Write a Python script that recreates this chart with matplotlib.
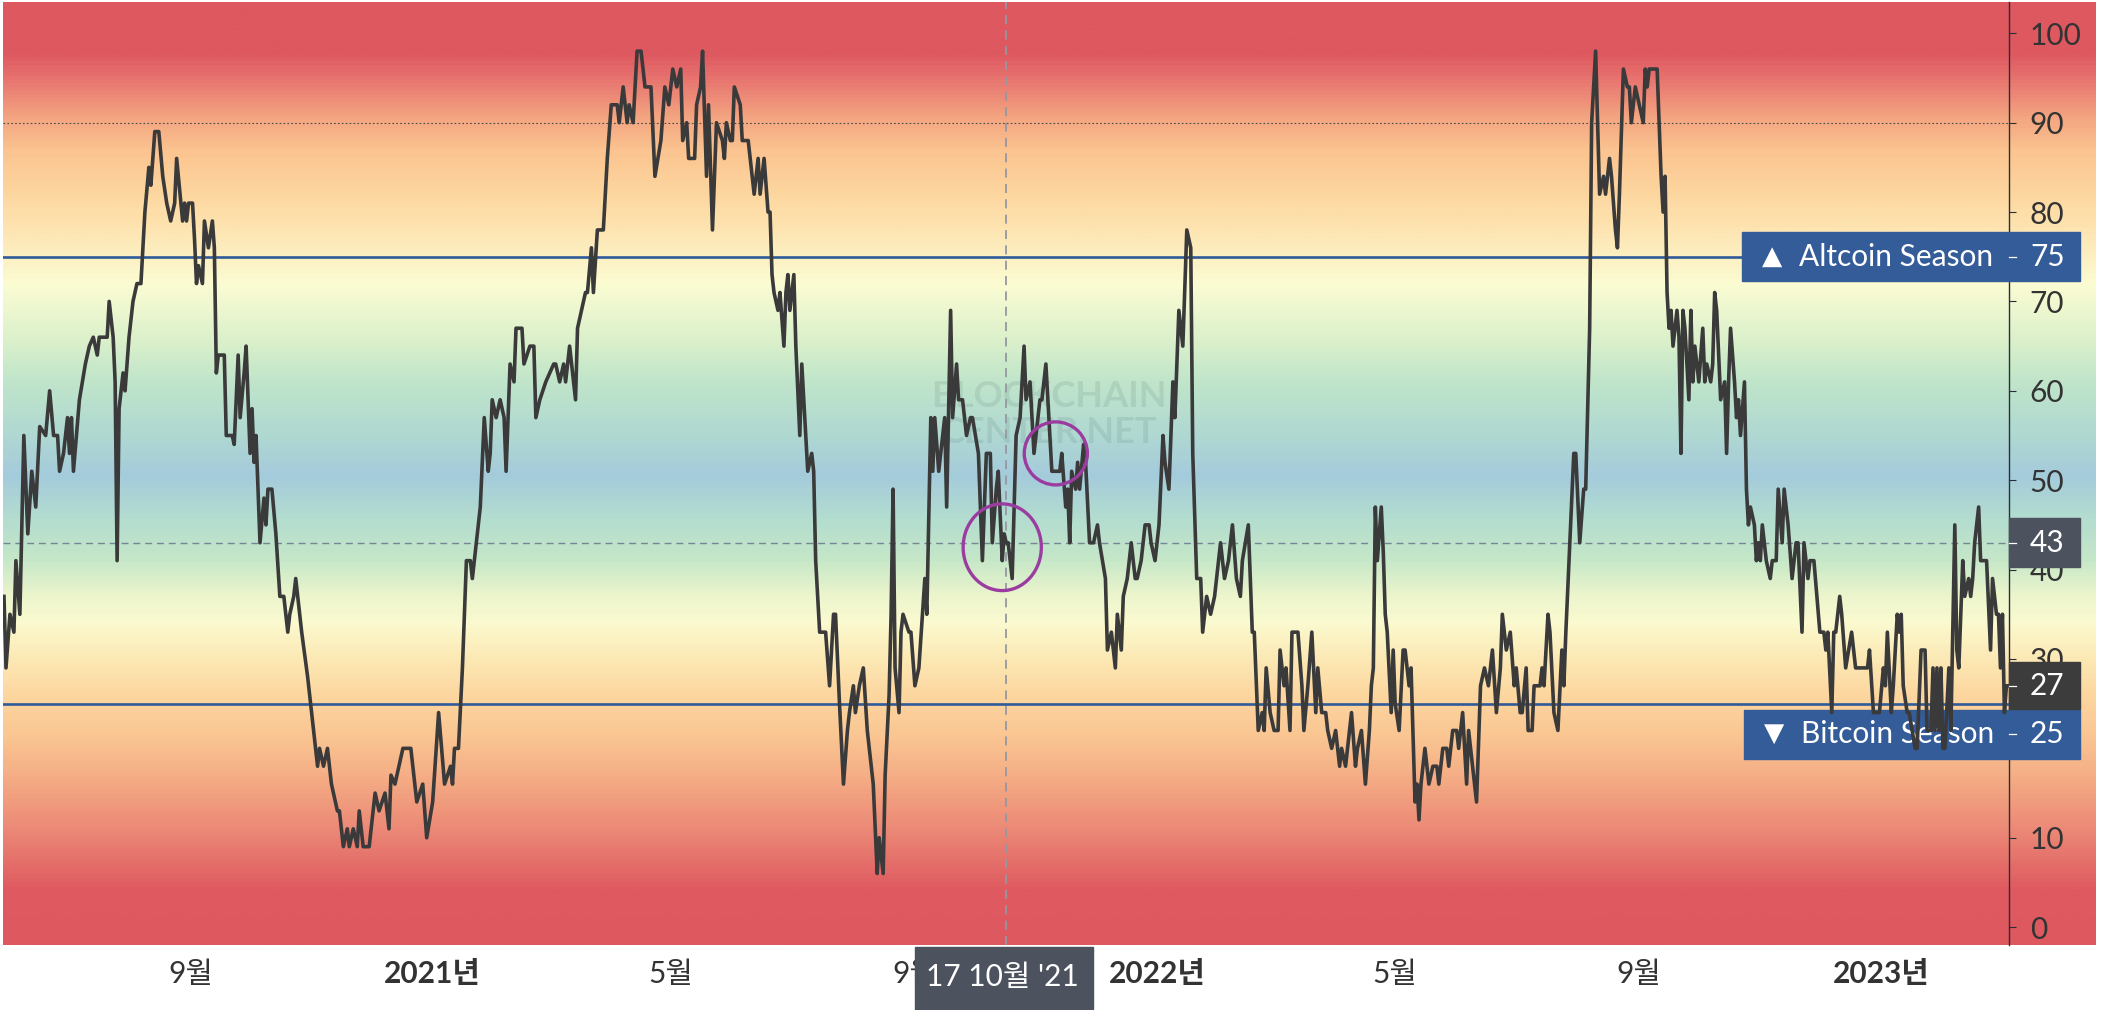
import numpy as np
import pandas as pd
import matplotlib
matplotlib.use("Agg")
import matplotlib.pyplot as plt
import matplotlib.dates as mdates
import matplotlib.transforms as mtransforms
from matplotlib.colors import LinearSegmentedColormap
from matplotlib.patches import Rectangle, Ellipse

plt.rcParams['font.family'] = ['Lato', 'Noto Sans CJK KR', 'DejaVu Sans']

START = pd.Timestamp("2020-05-28")

# altcoin season index: day offset from START -> value
days = [
    2, 3, 5, 7, 8, 10, 12, 14, 16, 18, 20, 23, 25, 27, 29, 30, 32, 34, 35, 36, 37, 40, 43, 45, 47, 49, 50,
    54, 55, 57, 58, 59, 60, 62, 63, 65, 67, 69, 71, 73, 75, 76, 78, 80, 82, 84, 86, 88, 89, 92, 93, 94, 95,
    97, 98, 99, 100, 102, 103, 105, 107, 108, 109, 110, 113, 114, 117, 118, 120, 121, 123, 124, 126, 127,
    128, 129, 131, 133, 134, 135, 137, 139, 141, 143, 145, 146, 148, 149, 152, 155, 157, 160, 161, 163, 165,
    167, 170,
    171, 173, 175, 176, 178, 180, 181, 183, 186, 188, 189, 191, 194, 196, 197, 199, 201, 203, 207, 208, 210,
    213, 215, 218, 221, 224, 227, 228, 229, 231, 233, 235, 237, 238, 240, 242, 244, 246, 247, 248, 250, 252,
    254, 255, 257, 259, 260, 263, 264, 267, 269, 270, 272, 275, 279, 280, 282, 284, 285, 287, 290, 291, 295,
    296, 298, 299, 301, 304, 306, 308, 311, 312, 314, 316, 317, 319, 321, 323, 325, 328, 330, 333, 335, 337,
    339, 341, 343, 344, 346, 347,
    348, 350, 351, 353, 354, 356, 357, 359, 361, 364, 365, 366, 368, 369, 370, 373, 374, 377, 379, 380, 382,
    383, 385, 387, 388, 389, 390, 392, 393, 395, 396, 397, 398, 400, 401, 403, 404, 405, 406, 407, 409, 410,
    411, 413, 416, 418, 420, 421, 423, 425, 427, 428, 430, 431, 433, 435, 437, 440, 442, 443, 445, 446, 448,
    449, 450, 451, 453, 454, 455, 458, 459, 461, 463, 466, 467, 469, 470, 471, 473, 474, 476, 477, 479, 480,
    482, 483, 485, 487, 489, 490, 493, 495, 497, 499, 500, 502, 503, 505, 506, 507, 508, 510, 512, 514,
    516, 517, 519, 521, 524, 525, 527, 528, 530, 534, 535, 537, 538, 539, 540, 542, 543, 544, 546, 547, 549,
    551, 553, 554, 557, 558, 560, 562, 563, 565, 566, 568, 570, 572, 573, 575, 577, 579, 580, 582, 584, 586,
    587, 589, 591, 592, 594, 596, 598, 600, 601, 603, 605, 606, 608, 610, 612, 614, 615, 617, 619, 621, 623,
    625, 626, 629, 631, 632, 634, 636, 637, 638, 640, 642, 644, 645, 647, 648, 650, 651, 654, 656, 657, 659,
    661, 663, 664, 666, 668, 669, 671, 673, 675, 676, 678, 680, 681, 683, 684, 686, 688,
    690, 691, 692, 693, 694, 696, 697, 698, 699, 701, 702, 703, 705, 707, 708, 710, 711, 713, 714, 715, 716,
    718, 720, 722, 724, 725, 727, 729, 730, 732, 734, 735, 737, 739, 740, 742, 744, 746, 748, 750, 752, 754,
    756, 757, 759, 761, 763, 764, 766, 767, 769, 770, 772, 773, 776, 777, 778, 780, 781, 783, 785, 787, 788,
    789, 791, 793, 794, 796, 798, 799, 801, 802, 804, 805, 806, 808, 809, 811, 812, 814, 815, 816, 818, 820,
    821, 822, 823, 824, 826, 828, 829, 830, 831, 835, 837, 838, 839, 840, 841, 842, 843, 845, 846, 847, 848,
    849, 851, 852,
    853, 854, 855, 856, 858, 859, 860, 862, 863, 864, 865, 867, 869, 870, 871, 872, 874, 875, 876, 877, 879,
    880, 881, 882, 884, 885, 886, 887, 888, 890, 892, 893, 895, 896, 898, 899, 901, 903, 905, 906, 908, 909,
    911, 912, 914, 917, 919, 920, 921, 923, 924, 925, 927, 928, 930, 933, 935, 939, 941, 942, 944, 947, 949,
    950, 951, 953, 954, 956, 957, 958, 959, 961, 962, 965, 966, 968, 970, 971, 973, 974, 975, 976, 977, 978,
    979, 980, 982, 983, 985, 986, 987, 989, 990, 992, 993, 994, 995, 997, 998, 1001, 1003, 1004, 1006, 1007,
    1008, 1009, 1010, 1011, 1012,
]
values = [
    37, 29, 35, 33, 41, 35, 55, 44, 51, 47, 56, 55, 60, 55, 55, 51, 53, 57, 53, 57, 51, 59, 63, 65, 66, 64, 66,
    66, 70, 66, 61, 41, 58, 62, 60, 66, 70, 72, 72, 80, 85, 83, 89, 89, 84, 81, 79, 81, 86, 79, 81, 79, 81,
    81, 77, 72, 74, 72, 79, 76, 79, 76, 62, 64, 64, 55, 55, 54, 64, 57, 62, 65, 53, 58,
    52, 55, 43, 48, 45, 49, 49, 44, 37, 37, 33, 35, 37, 39, 33, 28, 24, 18, 20, 18, 20,
    16, 13,
    13, 9, 11, 9, 11, 9, 13, 9, 9, 13, 15, 13, 15, 11, 17, 16, 18, 20, 20, 18, 14,
    16, 10, 14, 24, 16, 18, 16, 20, 20, 29, 41, 41, 39, 43, 47, 57, 51, 53, 59, 57, 59,
    57, 51, 63, 61, 67, 67, 63, 65, 65, 57, 59, 61, 63, 63, 61, 63, 61, 65, 59, 67, 71,
    71, 76, 71, 78, 78, 86, 92, 92, 90, 94, 90, 92, 90, 98, 98, 94, 94, 84, 88, 94, 92,
    96, 94, 96, 88, 90, 86,
    86, 86, 92, 94, 98, 84, 92, 78, 90, 88, 86, 90, 88, 88, 94, 92, 88, 88, 84, 82, 86,
    82, 86, 80, 80, 73, 71, 69, 71, 65, 71, 73, 69, 73, 65, 55, 63, 59, 55, 51, 53, 51,
    41, 33, 33, 27, 35, 35, 25, 16, 22, 24, 27, 24, 27, 29, 22, 16, 6, 10, 6, 17, 26,
    35, 49, 29, 24, 33, 35, 33, 33, 27, 29, 39, 35, 57, 51, 57, 51, 53, 57, 47, 69, 57,
    63, 59, 59, 55, 57, 57, 53, 41, 53, 53, 43, 49, 51, 41, 44, 43, 43, 39, 55, 57,
    65, 59, 61, 53, 59, 59, 63, 59, 51, 51, 53, 47, 49, 43, 51, 49, 52, 49, 54, 52, 43,
    43, 45, 43, 39, 31, 33, 29, 35, 31, 37, 39, 43, 39, 39, 41, 45, 45, 43, 41, 45, 55,
    52, 49, 61, 57, 69, 65, 78, 76, 53, 39, 39, 33, 37, 35, 37, 41, 43, 39, 41, 45, 39,
    37, 41, 45, 33, 33, 22, 24, 22, 29, 24, 22, 22, 31, 27, 29, 22, 33, 33, 27, 22, 27,
    33, 24, 29, 24, 24, 22, 20, 22, 18, 20, 18, 22, 24, 18, 20, 22, 16,
    22, 27, 29, 47, 41, 47, 42, 35, 33, 24, 31, 25, 22, 31, 31, 27, 29, 14, 16, 12, 16,
    20, 16, 18, 18, 16, 20, 20, 18, 22, 22, 20, 24, 16, 22, 18, 14, 27, 29, 27, 31, 24,
    29, 35, 31, 33, 27, 29, 24, 24, 29, 22, 22, 27, 27, 29, 27, 35, 33, 24, 22, 31, 27,
    33, 43, 53, 53, 43, 49, 49, 67, 90, 98, 90, 82, 84, 82, 86, 84, 78, 76, 82, 96, 94,
    94, 90, 92, 94, 92, 90, 96, 94, 96, 96, 84, 80, 84, 71, 67, 69, 65, 69, 66, 53, 69,
    67, 59, 69,
    61, 65, 63, 61, 67, 61, 63, 61, 63, 71, 69, 59, 61, 53, 61, 67, 61, 57, 59, 55, 61,
    49, 45, 47, 45, 41, 43, 41, 45, 41, 39, 41, 41, 49, 43, 49, 45, 39, 43, 43, 33, 43,
    39, 41, 41, 33, 33, 31, 33, 24, 33, 33, 37, 35, 29, 33, 29, 29, 29, 31, 24, 24, 29,
    27, 33, 24, 27, 35, 33, 35, 27, 24, 24, 20, 20, 31, 31, 22, 22, 29, 22, 29, 22, 29,
    20, 20, 29, 22, 45, 31, 29, 41, 37, 39, 37, 39, 43, 47, 41, 41, 31, 39, 35, 35,
    29, 35, 24, 27, 27,
]

tick_dates = ["2020-09-01", "2021-01-01", "2021-05-01", "2021-09-01",
              "2022-01-01", "2022-05-01", "2022-09-01", "2023-01-01"]
tick_labels = ["9월", "2021년", "5월", "9월", "2022년", "5월", "9월", "2023년"]
y_ticks = list(range(0, 101, 10))

ALT_LEVEL = 75
BTC_LEVEL = 25
BTC_TAG_Y = 21.6      # tag is pushed down under the last-value tag
DOT_LEVEL = 90
CURSOR_DATE = "2021-10-17"
CURSOR_LABEL = "17 10월 '21"
CURSOR_VALUE = 43
LAST_VALUE = 27

# hand-drawn purple rings
ring_dates = ["2021-10-15", "2021-11-11"]
ring_values = [42.5, 53.0]
ring_w_days = [39.4, 31.8]
ring_h = [9.7, 7.05]

# background colour ramp by index value
ramp = [(-2, '#de5860'), (4, '#df5a60'), (10, '#ea8474'), (16, '#f4a983'), (21, '#fac592'),
        (26, '#fdd7a0'), (30, '#fce9b5'), (34, '#fbfad0'), (37, '#ecf5cc'), (41, '#c6e8c8'),
        (46, '#b2dcd0'), (50.5, '#a4cbdb'), (55, '#afd8d2'), (61, '#c0e5ca'), (66, '#dcf1cb'),
        (72, '#fbfcd3'), (77, '#fde9b8'), (82, '#fdd7a0'), (87, '#fbc490'), (91, '#f3a380'),
        (95, '#e87570'), (98, '#de5860'), (103.5, '#de5860')]

YMIN, YMAX = -2.0, 103.5
W, H = 2107, 1010
LEFT, RIGHT, TOP, BOTTOM = 3, 2009, 2, 945
FS = 21.5


def fx(px):
    # pixel column -> axes fraction
    return (px - LEFT) / (RIGHT - LEFT)


fig = plt.figure(figsize=(W / 100, H / 100), dpi=100)
fig.patch.set_facecolor('white')

bg = fig.add_axes([LEFT / W, 1 - BOTTOM / H, (2096 - LEFT) / W, (BOTTOM - TOP) / H])
bg.set_zorder(0)
cmap = LinearSegmentedColormap.from_list(
    'season', [((v - YMIN) / (YMAX - YMIN), c) for v, c in ramp])
grad = np.linspace(YMIN, YMAX, 800).reshape(-1, 1)
bg.imshow(grad, aspect='auto', cmap=cmap, origin='lower', extent=[0, 1, YMIN, YMAX],
          vmin=YMIN, vmax=YMAX, interpolation='bilinear')
bg.set_xlim(0, 1)
bg.set_ylim(YMIN, YMAX)
bg.axis('off')

ax = fig.add_axes([LEFT / W, 1 - BOTTOM / H, (RIGHT - LEFT) / W, (BOTTOM - TOP) / H])
ax.set_zorder(1)
ax.patch.set_alpha(0)

dates = START + pd.to_timedelta(days, unit='D')
ax.plot(dates, values, color='#3a3a3a', lw=2.6, zorder=4)

ax.set_xlim(START + pd.Timedelta(days=1.5), START + pd.Timedelta(days=1012.3))
ax.set_ylim(YMIN, YMAX)

ax.axhline(ALT_LEVEL, color='#2f5b9a', lw=1.9, zorder=3)
ax.axhline(BTC_LEVEL, color='#2f5b9a', lw=1.9, zorder=3)
ax.axhline(DOT_LEVEL, color='#4a4a4a', lw=0.8, ls=(0, (1.5, 2)), zorder=2.5)
ax.axhline(CURSOR_VALUE, color='#758696', lw=1.0, ls=(0, (5, 3.5)), zorder=2.6)
cursor = pd.Timestamp(CURSOR_DATE)
ax.axvline(cursor, color='#9598a1', lw=1.3, ls=(0, (5, 3.5)), zorder=2.6)

for d, v, w, h in zip(ring_dates, ring_values, ring_w_days, ring_h):
    ax.add_patch(Ellipse((mdates.date2num(pd.Timestamp(d)), v), w, h, fill=False,
                         edgecolor='#9b3ca0', lw=2.4, zorder=5))

# watermark
ax.text(fx(1049), 0.582, "BLOCKCHAIN", transform=ax.transAxes, ha='center', va='center',
        fontsize=26, fontweight='bold', color='#5a7a78', alpha=0.16, zorder=2)
ax.text(fx(1049), 0.544, "CENTER.NET", transform=ax.transAxes, ha='center', va='center',
        fontsize=26, fontweight='bold', color='#5a7a78', alpha=0.16, zorder=2)

# axes styling
for s in ['left', 'top', 'bottom']:
    ax.spines[s].set_visible(False)
ax.spines['right'].set_color('#2a2e39')
ax.spines['right'].set_linewidth(1.0)
ax.yaxis.tick_right()
ax.set_yticks(y_ticks)
ax.tick_params(axis='y', direction='out', length=5, width=0.8, color='#2a2e39',
               pad=10, labelsize=FS, labelcolor='#333333')
ax.set_xticks(pd.to_datetime(tick_dates))
ax.set_xticklabels(tick_labels)
ax.tick_params(axis='x', length=0, pad=11, labelsize=FS, labelcolor='#333333')
for lbl, txt in zip(ax.get_xticklabels(), tick_labels):
    if txt.endswith('년'):
        lbl.set_fontweight('bold')

# price-scale tags on the right
ytr = mtransforms.blended_transform_factory(ax.transAxes, ax.transData)


def tag(x0, yc, h, color, number, z=3):
    ax.add_patch(Rectangle((x0, yc - h / 2), fx(2080) - x0, h, transform=ytr,
                           color=color, clip_on=False, zorder=z))
    ax.plot([1.0, fx(2016)], [yc, yc], transform=ytr, color='white', lw=0.9,
            clip_on=False, zorder=z + 0.1)
    ax.text(fx(2030), yc, number, transform=ytr, ha='left', va='center',
            color='white', fontsize=FS, clip_on=False, zorder=z + 0.2)


tag(fx(1742), ALT_LEVEL, 5.48, '#335c99', str(ALT_LEVEL))
ax.text(fx(1762), ALT_LEVEL, "▲", transform=ytr, ha='left', va='center', color='white',
        fontsize=19, family='DejaVu Sans', zorder=3.3)
ax.text(fx(1799), ALT_LEVEL, "Altcoin Season", transform=ytr, ha='left', va='center',
        color='white', fontsize=FS, zorder=3.3)

tag(fx(1744), BTC_TAG_Y, 5.48, '#335c99', str(BTC_LEVEL))
ax.text(fx(1764), BTC_TAG_Y, "▼", transform=ytr, ha='left', va='center', color='white',
        fontsize=19, family='DejaVu Sans', zorder=3.3)
ax.text(fx(1801), BTC_TAG_Y, "Bitcoin Season", transform=ytr, ha='left', va='center',
        color='white', fontsize=FS, zorder=3.3)

tag(1.0, CURSOR_VALUE, 5.48, '#4c525e', str(CURSOR_VALUE), z=6)
tag(1.0, LAST_VALUE, 5.26, '#3c3c3c', str(LAST_VALUE), z=6)

# crosshair date tag at the bottom
xtr = mtransforms.blended_transform_factory(ax.transData, ax.transAxes)
cx = mdates.date2num(cursor)
ax.add_patch(Rectangle((cx - 46, -0.069), 89.7, 0.067, transform=xtr, color='#4c525e',
                       clip_on=False, zorder=6))
ax.text(cx - 1.7, -0.034, CURSOR_LABEL, transform=xtr, ha='center', va='center',
        color='white', fontsize=FS, clip_on=False, zorder=7)

fig.savefig('out.png', dpi=100)
